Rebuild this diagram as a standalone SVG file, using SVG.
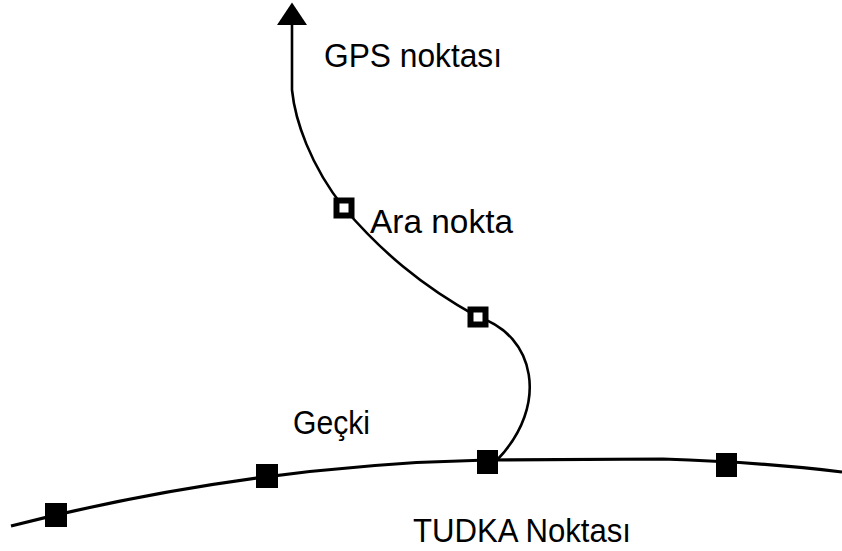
<svg xmlns="http://www.w3.org/2000/svg" width="842" height="551" viewBox="0 0 842 551">
<style>
.lbl{font-family:"Liberation Sans",Arial,sans-serif;font-size:34px;fill:#000}
.route{fill:none;stroke:#000;stroke-width:2.6}
.base{fill:none;stroke:#000;stroke-width:3.2}
.open{fill:#fff;stroke:#000;stroke-width:6}
.fill{fill:#000}
</style>
<defs>
<marker id="arr" markerUnits="userSpaceOnUse" markerWidth="24" markerHeight="30" viewBox="0 -14 21 28" refX="0" refY="0" orient="auto-start-reverse">
<path d="M0,-14 L21,0 L0,14 z" fill="#000"/>
</marker>
</defs>
<rect width="842" height="551" fill="#fff"/>
<g id="connectors">
<path class="base" d="M11,526 Q250,465 487,460 L663,459 Q760,462 842,472"/>
<path class="route" marker-start="url(#arr)" d="M292,25 L292,90 C295,120 310,165 344,208 C380,250 420,285 478,317 C535,335 550,405 497,460"/>
</g>
<g id="ara1"><rect class="open" x="336.5" y="200.5" width="15" height="15"/></g>
<g id="ara2"><rect class="open" x="470.5" y="309.5" width="15" height="15"/></g>
<g id="tudka1"><rect class="fill" x="45" y="503" width="22" height="24"/></g>
<g id="tudka2"><rect class="fill" x="256" y="464" width="22" height="24"/></g>
<g id="tudka3"><rect class="fill" x="477" y="450" width="21" height="24"/></g>
<g id="tudka4"><rect class="fill" x="716" y="453" width="21" height="24"/></g>
<g id="labels">
<text class="lbl" x="324" y="67" textLength="178" lengthAdjust="spacingAndGlyphs">GPS noktası</text>
<text class="lbl" x="370" y="233" textLength="143" lengthAdjust="spacingAndGlyphs">Ara nokta</text>
<text class="lbl" x="293" y="434" textLength="77" lengthAdjust="spacingAndGlyphs">Geçki</text>
<text class="lbl" x="413" y="542" textLength="218" lengthAdjust="spacingAndGlyphs">TUDKA Noktası</text>
</g>
</svg>
